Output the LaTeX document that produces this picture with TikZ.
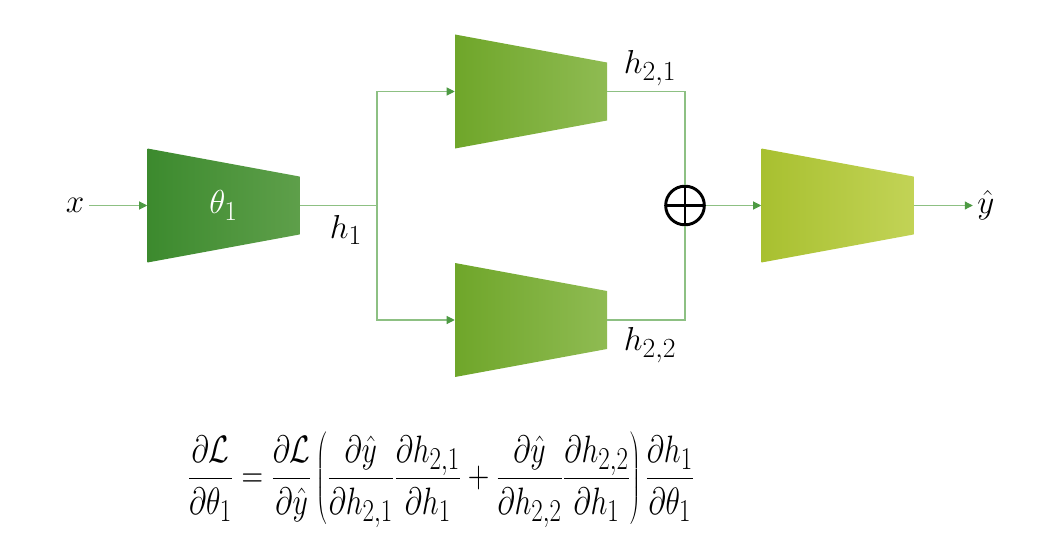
\documentclass[tikz,border=0pt]{standalone}
\usepackage{tikz}
\usetikzlibrary{arrows.meta}
\definecolor{encL}{HTML}{3C8A2E}
\definecolor{encR}{HTML}{5E9F4A}
\definecolor{midL}{HTML}{6FA62A}
\definecolor{midR}{HTML}{8FBB52}
\definecolor{decL}{HTML}{A8C030}
\definecolor{decR}{HTML}{C2D356}
\definecolor{linkgreen}{HTML}{8DC083}
\definecolor{tipgreen}{HTML}{4D9A43}

\begin{document}
\begin{tikzpicture}[x=0.75pt,y=-0.75pt,>={Triangle[length=6pt,width=6pt,color=tipgreen]},
  link/.style={draw=linkgreen,line width=0.8pt},
  stage/.style 2 args={rectangle,minimum width=114pt,minimum height=85.5pt,inner sep=0pt,text=white,path picture={\shade[left color=#1,right color=#2] (path picture bounding box.north west) -- ([yshift=-21pt]path picture bounding box.north east) -- ([yshift=21pt]path picture bounding box.south east) -- (path picture bounding box.south west) -- cycle;}},
  lbl/.style={font=\Huge},
  sum/.style={circle,draw=black,line width=2.2pt,minimum size=29pt,inner sep=0pt,path picture={\draw[line width=2.2pt] (path picture bounding box.north) -- (path picture bounding box.south) (path picture bounding box.west) -- (path picture bounding box.east);}}]
\useasboundingbox (0,0) rectangle (1057,560);
\node[lbl] (x) at (75,205.5) {$x$};
\node[stage={encL}{encR},lbl] (enc) at (223.5,205.5) {$\theta_1$};
\node[lbl] (h1) at (346,230) {$h_1$};
\coordinate (split) at (377,205.5);
\node[stage={midL}{midR}] (top) at (531,91.5) {};
\node[stage={midL}{midR}] (bot) at (531,320) {};
\node[lbl] (h21) at (650,68) {$h_{2,1}$};
\node[lbl] (h22) at (650,345) {$h_{2,2}$};
\node[sum] (add) at (685,205.5) {};
\node[stage={decL}{decR}] (dec) at (837.5,205.5) {};
\node[lbl] (yhat) at (986,205.5) {$\hat{y}$};
\node[font=\Huge] (grad) at (441,480) {\scalebox{0.9}[1.15]{$\displaystyle\frac{\partial\mathcal{L}}{\partial\theta_1}=\frac{\partial\mathcal{L}}{\partial\hat{y}}\left(\frac{\partial\hat{y}}{\partial h_{2,1}}\frac{\partial h_{2,1}}{\partial h_1}+\frac{\partial\hat{y}}{\partial h_{2,2}}\frac{\partial h_{2,2}}{\partial h_1}\right)\frac{\partial h_1}{\partial\theta_1}$}};
\draw[link,->] (x) -- (enc);
\draw[link] (enc) -- (split);
\draw[link,->] (split) |- (top);
\draw[link,->] (split) |- (bot);
\draw[link] (top) -| (add);
\draw[link] (bot) -| (add);
\draw[link,->] (add) -- (dec);
\draw[link,->] (dec) -- (yhat);
\end{tikzpicture}
\end{document}
